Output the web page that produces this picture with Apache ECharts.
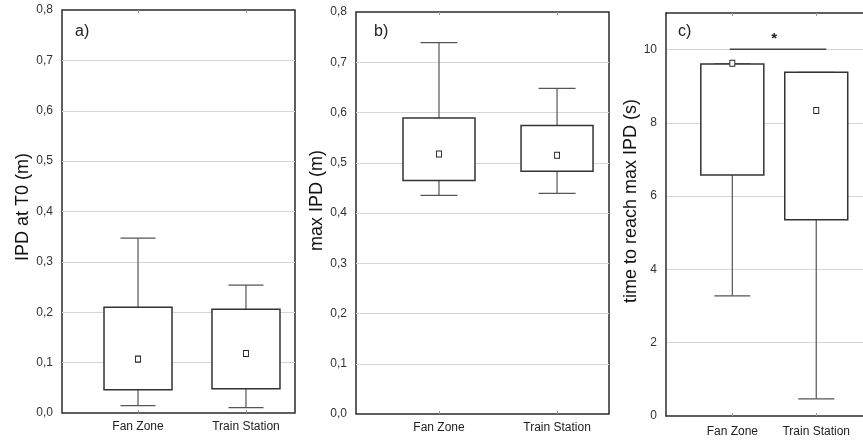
<!DOCTYPE html>
<html>
<head>
<meta charset="utf-8">
<script src="https://cdn.jsdelivr.net/npm/echarts@6/dist/echarts.min.js"></script>
<style>
  html, body { margin: 0; padding: 0; background: #fff; }
  #main { width: 863px; height: 441px; }
</style>
</head>
<body>
<div id="main"></div>
<script>
var categories = ['Fan Zone', 'Train Station'];
var panelLabels = ['a)', 'b)', 'c)'];
var axisNames = ['IPD at T0 (m)', 'max IPD (m)', 'time to reach max IPD (s)'];

// per category: [low whisker, box bottom, box top, high whisker]
var ipdT0Boxes = [[0.0145, 0.046, 0.210, 0.347], [0.0105, 0.048, 0.206, 0.254]];
var ipdT0Means = [0.107, 0.118];
var maxIpdBoxes = [[0.435, 0.4645, 0.589, 0.739], [0.439, 0.483, 0.574, 0.648]];
var maxIpdMeans = [0.5175, 0.515];
var timeBoxes = [[3.28, 6.58, 9.61, 9.61], [0.47, 5.36, 9.38, 9.38]];
var timeMeans = [9.63, 8.34];

// significance bar in panel c: [x from, x to, y], star at [x, y]
var sigLine = [0.97, 2.12, 10.01];
var sigStar = [1.5, 10.3];

var font = "'Liberation Sans', Arial, sans-serif";
var frameColor = '#2b2b2b';

var chart = echarts.init(document.getElementById('main'), null, { renderer: 'canvas' });

function boxRenderer(boxW, capW) {
  return function (params, api) {
    var x = api.value(0);
    var lo = api.coord([x, api.value(1)]);
    var q1 = api.coord([x, api.value(2)]);
    var q3 = api.coord([x, api.value(3)]);
    var hi = api.coord([x, api.value(4)]);
    var cx = lo[0];
    var ws = { stroke: '#555', lineWidth: 1.2 };
    return {
      type: 'group',
      children: [
        { type: 'line', shape: { x1: cx, y1: hi[1], x2: cx, y2: lo[1] }, style: ws },
        { type: 'line', shape: { x1: cx - capW / 2, y1: hi[1], x2: cx + capW / 2, y2: hi[1] }, style: ws },
        { type: 'line', shape: { x1: cx - capW / 2, y1: lo[1], x2: cx + capW / 2, y2: lo[1] }, style: ws },
        { type: 'rect', shape: { x: cx - boxW / 2, y: q3[1], width: boxW, height: q1[1] - q3[1] },
          style: { fill: '#fff', stroke: '#333', lineWidth: 1.5 } }
      ]
    };
  };
}

function toBoxData(boxes) {
  return boxes.map(function (b, i) { return [i + 1].concat(b); });
}
function toMeanData(means) {
  return means.map(function (m, i) { return [i + 1, m]; });
}

var grids = [
  { left: 62, right: 568, top: 10, bottom: 28, show: true },
  { left: 356, right: 254, top: 12, bottom: 27, show: true },
  { left: 666, right: 0, top: 13, bottom: 25, show: false }  // right edge cropped in the reference
];
var xRanges = [[0.296, 2.454], [0.297, 2.44], [0.21, 2.557]];
var yRanges = [[0, 0.8, 0.1], [0, 0.8, 0.1], [0, 11, 2]];
var nameGaps = [29, 23, 18];
var namePads = [9, 25, 27];
var xLabelMargins = [8, 8, 10];
var boxWidths = [68, 72, 63];
var capWidths = [35, 37, 36];
var titleLeft = [70, 369, 673];
var allBoxes = [ipdT0Boxes, maxIpdBoxes, timeBoxes];
var allMeans = [ipdT0Means, maxIpdMeans, timeMeans];

var option = {
  backgroundColor: '#fff',
  animation: false,
  textStyle: { fontFamily: font },
  title: panelLabels.map(function (t, i) {
    return { text: t, left: titleLeft[i], top: 19, textStyle: { fontSize: 16, fontWeight: 'normal', color: '#222', fontFamily: font } };
  }),
  grid: grids.map(function (g) {
    return Object.assign({ borderColor: frameColor, borderWidth: 1.5, backgroundColor: 'transparent' }, g);
  }),
  xAxis: [],
  yAxis: [],
  series: []
};

for (var i = 0; i < 3; i++) {
  var ownLines = !grids[i].show;
  var frameLine = { show: ownLines, lineStyle: { color: frameColor, width: 1.5 } };
  option.xAxis.push({
    type: 'value', gridIndex: i, min: xRanges[i][0], max: xRanges[i][1],
    axisLine: frameLine,
    splitLine: { show: false },
    axisTick: { show: true, inside: true, length: 3, customValues: [1, 2], lineStyle: { color: '#999' } },
    axisLabel: {
      customValues: [1, 2], margin: xLabelMargins[i], fontSize: 12, color: '#222', fontFamily: font,
      formatter: function (v) { return categories[Math.round(v) - 1] || ''; }
    }
  });
  option.yAxis.push({
    type: 'value', gridIndex: i, min: yRanges[i][0], max: yRanges[i][1], interval: yRanges[i][2],
    name: axisNames[i], nameLocation: 'middle', nameGap: nameGaps[i],
    nameTextStyle: { fontSize: 18, color: '#111', fontFamily: font, padding: [0, 0, 0, namePads[i]] },
    axisLine: frameLine,
    axisTick: { show: false },
    splitLine: { show: true, showMinLine: false, showMaxLine: false, lineStyle: { color: '#d6d6d6', width: 1 } },
    axisLabel: {
      margin: 9, fontSize: 12, color: '#333', fontFamily: font, showMaxLabel: i < 2,
      formatter: (function (step) {
        return function (v) { return step < 1 ? v.toFixed(1).replace('.', ',') : String(Math.round(v)); };
      })(yRanges[i][2])
    }
  });
  // top ticks
  option.xAxis.push({
    type: 'value', gridIndex: i, position: 'top', min: xRanges[i][0], max: xRanges[i][1],
    axisLine: frameLine, splitLine: { show: false }, axisLabel: { show: false },
    axisTick: { show: true, inside: true, length: 3, customValues: [1, 2], lineStyle: { color: '#999' } }
  });
  option.series.push({
    type: 'custom', xAxisIndex: i * 2, yAxisIndex: i,
    renderItem: boxRenderer(boxWidths[i], capWidths[i]),
    encode: { x: 0, y: [1, 2, 3, 4] },
    data: toBoxData(allBoxes[i]), z: 3
  });
  option.series.push({
    type: 'scatter', xAxisIndex: i * 2, yAxisIndex: i,
    symbol: 'rect', symbolSize: [5, 6],
    itemStyle: { color: '#fff', borderColor: '#222', borderWidth: 1, opacity: 1 },
    data: toMeanData(allMeans[i]), z: 5
  });
}

option.series.push({
  type: 'custom', xAxisIndex: 4, yAxisIndex: 2,
  encode: { x: [0, 1, 3], y: [2, 4] },
  data: [sigLine.concat(sigStar)],
  renderItem: function (params, api) {
    var a = api.coord([api.value(0), api.value(2)]);
    var b = api.coord([api.value(1), api.value(2)]);
    var s = api.coord([api.value(3), api.value(4)]);
    return {
      type: 'group',
      children: [
        { type: 'line', shape: { x1: a[0], y1: a[1], x2: b[0], y2: b[1] }, style: { stroke: '#444', lineWidth: 1.5 } },
        { type: 'text', x: s[0], y: s[1], style: { text: '*', fill: '#222', font: 'bold 15px ' + font, align: 'center', verticalAlign: 'middle' } }
      ]
    };
  },
  z: 5
});

chart.setOption(option);
</script>
</body>
</html>
